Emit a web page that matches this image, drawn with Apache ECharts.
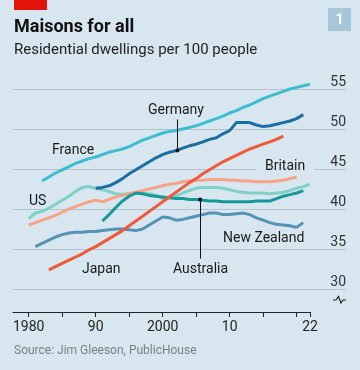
<!DOCTYPE html>
<html><head><meta charset="utf-8">
<script src="https://cdn.jsdelivr.net/npm/echarts@6/dist/echarts.min.js"></script>
<style>html,body{margin:0;padding:0;background:#d8e6ef}#c{width:360px;height:370px}</style>
</head><body><div id="c"></div>
<script>
// ---- data ----
const xTickYears = [1980,1985,1990,1995,2000,2005,2010,2015,2020,2022];
const xLabelYears = [1980,1990,2000,2010,2022];
const xLabelTexts = ['1980','90','2000','10','22'];
const yTickLabels = ['30','35','40','45','50','55'];

const franceStart = 1982;
const franceValues = [43.5,44.0,44.5,44.9,45.3,45.7,46.0,46.3,46.5,46.8,47.1,47.3,47.5,47.8,48.2,48.6,48.9,49.2,49.5,49.7,49.8,50.0,50.2,50.4,50.7,51.0,51.3,51.6,52.0,52.3,52.7,53.0,53.4,53.8,54.1,54.4,54.7,55.0,55.2,55.4,55.6];
const germanyStart = 1990;
const germanyValues = [42.6,42.7,42.9,43.3,43.8,44.4,44.9,45.4,45.9,46.4,46.8,47.1,47.3,47.6,47.9,48.1,48.4,48.7,48.9,49.4,49.8,50.8,50.8,50.8,50.5,50.3,50.4,50.6,50.8,51.0,51.3,51.8];
const britainStart = 1980;
const britainValues = [38.0,38.3,38.6,38.9,39.2,39.6,40.0,40.3,40.6,40.9,41.1,40.9,41.2,41.5,41.7,41.9,42.1,42.3,42.5,42.7,42.9,43.1,43.2,43.4,43.5,43.6,43.6,43.7,43.7,43.7,43.6,43.6,43.5,43.5,43.4,43.4,43.4,43.5,43.6,43.8,44.0];
const japanStart = 1983;
const japanValues = [32.4,32.8,33.2,33.6,34.0,34.4,34.9,35.3,35.8,36.3,36.8,37.3,37.9,38.5,39.1,39.7,40.3,40.9,41.5,42.1,42.7,43.3,43.8,44.4,44.9,45.4,45.9,46.3,46.7,47.1,47.5,47.8,48.1,48.4,48.7,49.1];
const usStart = 1980;
const usValues = [38.8,39.5,39.7,40.1,40.6,41.1,41.6,42.2,42.7,42.8,42.6,42.4,42.2,41.9,41.8,41.9,42.0,42.0,41.9,41.7,41.3,41.4,41.6,42.0,42.3,42.6,42.7,42.7,42.7,42.6,42.4,42.2,42.1,42.0,42.0,42.0,41.9,42.0,42.1,42.3,42.6,42.8,43.1];
const australiaStart = 1991;
const australiaValues = [38.5,39.3,40.2,41.0,41.6,42.0,41.9,41.7,41.6,41.5,41.4,41.3,41.3,41.2,41.2,41.1,41.0,41.0,40.9,40.9,40.9,40.9,40.9,41.0,41.0,41.0,41.3,41.6,41.8,42.0,42.3];
const nzStart = 1981;
const nzValues = [35.3,35.7,36.1,36.5,36.8,37.0,37.1,37.1,37.2,37.2,37.3,37.4,37.5,37.5,37.4,37.3,37.5,38.0,38.5,39.0,38.9,38.6,38.7,38.9,39.1,39.3,39.5,39.5,39.3,39.3,39.4,39.5,39.3,38.9,38.6,38.3,38.1,38.0,37.9,37.7,38.3];

function pairs(start, vals){ return vals.map((v,i)=>[start+i, v]); }

const FONT = 'Roboto';
const chart = echarts.init(document.getElementById('c'), null, {renderer:'canvas'});

function line(name, start, vals, color, extra){
  return Object.assign({
    name, type:'line', xAxisIndex:1, yAxisIndex:1,
    data: pairs(start, vals), showSymbol:false, symbol:'none',
    lineStyle:{color, width:3}, itemStyle:{color}, silent:true, animation:false
  }, extra||{});
}

const option = {
  backgroundColor:'#d8e6ef',
  animation:false,
  grid:[
    {left:13, right:14, top:89, height:200},
    {left:13, right:50, top:81, bottom:58}
  ],
  xAxis:[
    {gridIndex:0, type:'value', min:0, max:1, show:false},
    {gridIndex:1, type:'value', min:1977.65, max:2022,
     axisLine:{show:true, lineStyle:{color:'#222', width:1}},
     axisTick:{show:true, length:5, customValues:xTickYears, lineStyle:{color:'#222'}},
     axisLabel:{customValues:xLabelYears, margin:8, fontFamily:FONT, fontSize:14, color:'#222',
       formatter:(v)=>{const i=xLabelYears.indexOf(Math.round(v)); return i>=0?xLabelTexts[i]:'';}},
     splitLine:{show:false}}
  ],
  yAxis:[
    {gridIndex:0, type:'value', min:30, max:55, interval:5, position:'right',
     axisLine:{show:false}, axisTick:{show:false},
     axisLabel:{inside:true, margin:0, fontFamily:FONT, fontSize:14, color:'#333', verticalAlign:'bottom', align:'right',
       formatter:(v)=>yTickLabels[(v-30)/5]},
     splitLine:{show:true, lineStyle:{color:'#b3c3cc', width:1}}},
    {gridIndex:1, type:'value', min:27.125, max:56, show:false, splitLine:{show:false}}
  ],
  series:[
    line('New Zealand', nzStart, nzValues, '#5592b6'),
    line('US', usStart, usValues, '#7fd0c6'),
    line('Britain', britainStart, britainValues, '#f6a386'),
    line('Australia', australiaStart, australiaValues, '#16979a', {
      markLine:{silent:true, symbol:['circle','none'], symbolSize:4, animation:false,
        label:{show:false}, lineStyle:{color:'#111', width:1, type:'solid'},
        data:[[{coord:[2005.6,41.2]},{coord:[2005.6,33.8]}]]}
    }),
    line('France', franceStart, franceValues, '#3ebcd2'),
    line('Germany', germanyStart, germanyValues, '#1b6ea2', {
      markLine:{silent:true, symbol:['circle','none'], symbolSize:4, animation:false,
        label:{show:false}, lineStyle:{color:'#111', width:1, type:'solid'},
        data:[[{coord:[2002.2,47.3]},{coord:[2002.2,51.2]}]]}
    }),
    line('Japan', japanStart, japanValues, '#f05a3a')
  ],
  graphic:[
    {type:'rect', shape:{x:14, y:0, width:33, height:10}, style:{fill:'#e3120b'}, z:10},
    {type:'rect', shape:{x:328, y:8, width:23, height:23}, style:{fill:'#a6c6d9'}, z:10},
    {type:'text', x:339.5, y:20, z:11, style:{text:'1', fill:'#fff', font:'bold 15px Roboto', align:'center', verticalAlign:'middle'}},
    {type:'text', x:14, y:27, z:10, style:{text:'Maisons for all', fill:'#111', font:'bold 18px Roboto', verticalAlign:'middle'}},
    {type:'text', x:14, y:50, z:10, style:{text:'Residential dwellings per 100 people', fill:'#222', font:'15px Roboto', verticalAlign:'middle'}},
    {type:'text', x:52, y:150, z:10, style:{text:'France', fill:'#1a1a1a', font:'14px Roboto', verticalAlign:'middle'}},
    {type:'text', x:148, y:110, z:10, style:{text:'Germany', fill:'#1a1a1a', font:'14px Roboto', verticalAlign:'middle'}},
    {type:'text', x:256, y:166, z:10, style:{text:'Britain', fill:'#1a1a1a', font:'14px Roboto', verticalAlign:'middle', backgroundColor:'#d8e6ef', padding:[1,9,1,9]}},
    {type:'text', x:29, y:201, z:10, style:{text:'US', fill:'#1a1a1a', font:'14px Roboto', verticalAlign:'middle'}},
    {type:'text', x:223, y:238, z:10, style:{text:'New Zealand', fill:'#1a1a1a', font:'14px Roboto', verticalAlign:'middle'}},
    {type:'text', x:82, y:269, z:10, style:{text:'Japan', fill:'#1a1a1a', font:'14px Roboto', verticalAlign:'middle'}},
    {type:'text', x:173, y:269, z:10, style:{text:'Australia', fill:'#1a1a1a', font:'14px Roboto', verticalAlign:'middle'}},
    {type:'polyline', z:10, shape:{points:[[333,300],[336,300],[338.5,296.5],[341,303],[343,300],[346,300]]}, style:{stroke:'#222', lineWidth:1.2, fill:null}},
    {type:'text', x:14, y:351, z:10, style:{text:'Source: Jim Gleeson, PublicHouse', fill:'#7a7f84', font:'12px Roboto', verticalAlign:'middle'}}
  ]
};
chart.setOption(option);
</script>
</body></html>
